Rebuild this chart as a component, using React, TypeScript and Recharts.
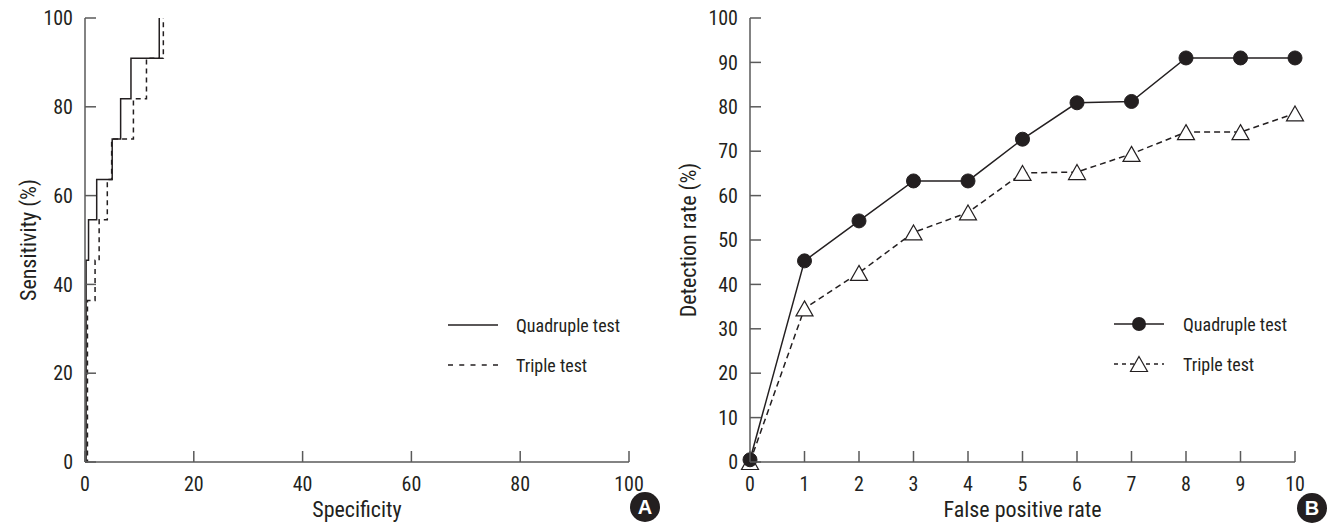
import React from 'react';
import { LineChart, Line, XAxis, YAxis, Label } from 'recharts';

// ---------- Panel A data (ROC step curves) ----------
const quadSpecificity = [0, 0.2, 0.65, 2.15, 5.0, 6.55, 8.45, 13.65];
const quadSensitivity = [0, 45.45, 54.55, 63.64, 72.73, 81.82, 90.91, 100];
const tripleSpecificity = [0, 0.45, 1.85, 2.6, 4.1, 4.9, 8.9, 11.3, 14.4];
const tripleSensitivity = [0, 36.36, 45.45, 54.55, 63.64, 72.73, 81.82, 90.91, 100];
const specTicks = [0, 20, 40, 60, 80, 100];
const sensTicks = [0, 20, 40, 60, 80, 100];

// ---------- Panel B data ----------
const falsePositiveRates = [0, 1, 2, 3, 4, 5, 6, 7, 8, 9, 10];
const quadDetection = [0.5, 45.3, 54.3, 63.3, 63.3, 72.7, 80.9, 81.2, 91.0, 91.0, 91.0];
const tripleDetection = [0, 34.6, 42.6, 51.7, 56.2, 65.1, 65.3, 69.4, 74.3, 74.3, 78.5];
const detTicks = [0, 10, 20, 30, 40, 50, 60, 70, 80, 90, 100];

const quadA = quadSpecificity.map((x, i) => ({ x, y: quadSensitivity[i] }));
const tripleA = tripleSpecificity.map((x, i) => ({ x, y: tripleSensitivity[i] }));
const dataB = falsePositiveRates.map((f, i) => ({ fpr: f, quad: quadDetection[i], triple: tripleDetection[i] }));

const FONT = "'Liberation Sans Narrow', 'Arial Narrow', 'Roboto Condensed', 'Liberation Sans', sans-serif";
const INK = '#231f20';
const AXIS = '#5a5a5a';
const TICK_LEN = 11;
const Y_GAP = 12;
const X_GAP = 15;

const YTick = (props: any) => {
  const { x, y, payload } = props;
  const ax = x + Y_GAP;
  return (
    <g>
      <line x1={ax} x2={ax + TICK_LEN} y1={y} y2={y} stroke={AXIS} strokeWidth={1.5} />
      <text x={x} y={y} dy="0.36em" textAnchor="end" fill={INK} fontSize={20} fontFamily={FONT}>
        {payload.value}
      </text>
    </g>
  );
};

const XTick = (props: any) => {
  const { x, y, payload } = props;
  const ay = y - X_GAP;
  return (
    <g>
      <line x1={x} x2={x} y1={ay} y2={ay - TICK_LEN} stroke={AXIS} strokeWidth={1.5} />
      <text x={x} y={y} dy="0.72em" textAnchor="middle" fill={INK} fontSize={20} fontFamily={FONT}>
        {payload.value}
      </text>
    </g>
  );
};

const Dot = (props: any) => {
  const { cx, cy } = props;
  if (cx == null || cy == null) return null;
  return <circle cx={cx} cy={cy} r={7} fill={INK} stroke={INK} />;
};

const Tri = (props: any) => {
  const { cx, cy } = props;
  if (cx == null || cy == null) return null;
  const h = 7.5;
  const w = 8.5;
  return (
    <polygon
      points={`${cx},${cy - h} ${cx + w},${cy + h} ${cx - w},${cy + h}`}
      fill="#fff"
      stroke={INK}
      strokeWidth={1.2}
    />
  );
};

const legendText: React.CSSProperties = { fontSize: 18, color: INK, fontFamily: FONT, whiteSpace: 'nowrap' };

const LegendA = ({ left, top }: { left: number; top: number }) => (
  <div style={{ position: 'absolute', left, top }}>
    <div style={{ display: 'flex', alignItems: 'center', height: 40 }}>
      <svg width={50} height={20}>
        <line x1={0} x2={50} y1={10} y2={10} stroke={INK} strokeWidth={1.5} />
      </svg>
      <span style={{ ...legendText, marginLeft: 18 }}>Quadruple test</span>
    </div>
    <div style={{ display: 'flex', alignItems: 'center', height: 40 }}>
      <svg width={50} height={20}>
        <line x1={0} x2={50} y1={10} y2={10} stroke={INK} strokeWidth={1.5} strokeDasharray="5 6.25" />
      </svg>
      <span style={{ ...legendText, marginLeft: 18 }}>Triple test</span>
    </div>
  </div>
);

const LegendB = ({ left, top }: { left: number; top: number }) => (
  <div style={{ position: 'absolute', left, top }}>
    <div style={{ display: 'flex', alignItems: 'center', height: 40 }}>
      <svg width={50} height={20}>
        <line x1={0} x2={50} y1={10} y2={10} stroke={INK} strokeWidth={1.5} />
        <circle cx={25} cy={10} r={7} fill={INK} />
      </svg>
      <span style={{ ...legendText, marginLeft: 19 }}>Quadruple test</span>
    </div>
    <div style={{ display: 'flex', alignItems: 'center', height: 40 }}>
      <svg width={50} height={20}>
        <line x1={0} x2={50} y1={10} y2={10} stroke={INK} strokeWidth={1.5} strokeDasharray="4 4" />
        <polygon points="25,2.5 33.5,17.5 16.5,17.5" fill="#fff" stroke={INK} strokeWidth={1.2} />
      </svg>
      <span style={{ ...legendText, marginLeft: 19 }}>Triple test</span>
    </div>
  </div>
);

const Badge = ({ letter, left, top }: { letter: string; left: number; top: number }) => (
  <div
    style={{
      position: 'absolute',
      left,
      top,
      width: 30,
      height: 30,
      borderRadius: 15,
      background: INK,
      color: '#fff',
      fontFamily: "'Liberation Sans', Arial, sans-serif",
      fontWeight: 700,
      fontSize: 20,
      lineHeight: '30px',
      textAlign: 'center',
    }}
  >
    {letter}
  </div>
);

export default function App() {
  return (
    <div style={{ position: 'absolute', left: 0, top: 0, width: 1331, height: 525, background: '#fff', fontFamily: FONT }}>
      <div style={{ position: 'absolute', left: 0, top: 0 }}>
        <LineChart width={680} height={525} margin={{ top: 18, right: 51, bottom: 3, left: 15 }}>
          <XAxis
            type="number"
            dataKey="x"
            domain={[0, 100]}
            ticks={specTicks}
            allowDuplicatedCategory={false}
            height={60}
            tickSize={0}
            tickMargin={X_GAP}
            tickLine={false}
            axisLine={{ stroke: AXIS, strokeWidth: 1.5 }}
            tick={<XTick />}
          >
            <Label value="Specificity" position="insideBottom" offset={5} fill={INK} fontSize={22} fontFamily={FONT} />
          </XAxis>
          <YAxis
            type="number"
            dataKey="y"
            domain={[0, 100]}
            ticks={sensTicks}
            width={70}
            tickSize={0}
            tickMargin={Y_GAP}
            tickLine={false}
            axisLine={{ stroke: AXIS, strokeWidth: 1.5 }}
            tick={<YTick />}
          >
            <Label
              value="Sensitivity (%)"
              position="insideLeft"
              angle={-90}
              offset={13}
              fill={INK}
              fontSize={22}
              fontFamily={FONT}
              style={{ textAnchor: 'middle' }}
            />
          </YAxis>
          <Line data={quadA} dataKey="y" type="stepAfter" stroke={INK} strokeWidth={1.5} dot={false} isAnimationActive={false} />
          <Line
            data={tripleA}
            dataKey="y"
            type="stepAfter"
            stroke={INK}
            strokeWidth={1.5}
            strokeDasharray="5 4"
            dot={false}
            isAnimationActive={false}
          />
        </LineChart>
      </div>
      <div style={{ position: 'absolute', left: 660, top: 0 }}>
        <LineChart width={671} height={525} data={dataB} margin={{ top: 18, right: 36, bottom: 3, left: 20 }}>
          <XAxis
            type="number"
            dataKey="fpr"
            domain={[0, 10]}
            ticks={falsePositiveRates}
            height={60}
            tickSize={0}
            tickMargin={X_GAP}
            tickLine={false}
            axisLine={{ stroke: AXIS, strokeWidth: 1.5 }}
            tick={<XTick />}
          >
            <Label value="False positive rate" position="insideBottom" offset={5} fill={INK} fontSize={22} fontFamily={FONT} />
          </XAxis>
          <YAxis
            type="number"
            domain={[0, 100]}
            ticks={detTicks}
            width={70}
            tickSize={0}
            tickMargin={Y_GAP}
            tickLine={false}
            axisLine={{ stroke: AXIS, strokeWidth: 1.5 }}
            tick={<YTick />}
          >
            <Label
              value="Detection rate (%)"
              position="insideLeft"
              angle={-90}
              offset={8}
              fill={INK}
              fontSize={22}
              fontFamily={FONT}
              style={{ textAnchor: 'middle' }}
            />
          </YAxis>
          <Line dataKey="triple" type="linear" stroke={INK} strokeWidth={1.5} strokeDasharray="6 4" dot={<Tri />} isAnimationActive={false} />
          <Line dataKey="quad" type="linear" stroke={INK} strokeWidth={1.5} dot={<Dot />} isAnimationActive={false} />
        </LineChart>
      </div>
      <LegendA left={448} top={305} />
      <LegendB left={1114} top={304} />
      <Badge letter="A" left={630} top={492} />
      <Badge letter="B" left={1297} top={493} />
    </div>
  );
}
